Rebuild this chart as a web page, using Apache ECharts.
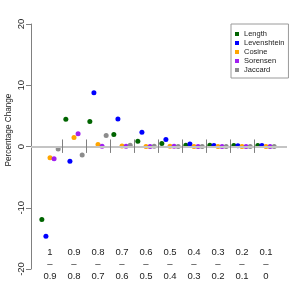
<!DOCTYPE html>
<html><head><meta charset="utf-8">
<script src="https://cdn.jsdelivr.net/npm/echarts@6/dist/echarts.min.js"></script>
<style>html,body{margin:0;padding:0;background:#fff}#c{width:300px;height:300px}</style>
</head><body><div id="c"></div>
<script>
var categories = ['1\n–\n0.9','0.9\n–\n0.8','0.8\n–\n0.7','0.7\n–\n0.6','0.6\n–\n0.5','0.5\n–\n0.4','0.4\n–\n0.3','0.3\n–\n0.2','0.2\n–\n0.1','0.1\n–\n0'];
var seriesNames = ['Length','Levenshtein','Cosine','Sorensen','Jaccard'];
var lengthVals      = [-11.9, 4.46, 4.08, 1.96, 0.87, 0.49, 0.2, 0.2, 0.15, 0.15];
var levenshteinVals = [-14.65, -2.4, 8.77, 4.5, 2.34, 1.15, 0.4, 0.15, 0.12, 0.15];
var cosineVals      = [-1.85, 1.47, 0.33, 0.1, 0.02, 0.05, 0, 0, 0, 0];
var sorensenVals    = [-2.0, 2.07, 0.05, 0.05, 0, 0.03, 0, 0, 0, 0];
var jaccardVals     = [-0.4, -1.4, 1.8, 0.2, 0.05, 0, 0, 0, 0, 0];
var yTicks = [-20, -10, 0, 10, 20];
var colors = ['#006400','#0000ff','#ffa500','#a020f0','#8c8c8c'];

var allVals = [lengthVals, levenshteinVals, cosineVals, sorensenVals, jaccardVals];
var dodge = 0.17;
var series = allVals.map(function(vals, k){
  return {
    name: seriesNames[k], type: 'scatter', symbol: 'circle', symbolSize: 5, z: 3,
    itemStyle: {color: colors[k], opacity: 1},
    data: vals.map(function(v, i){ return [i + (k - 2) * dodge, v]; })
  };
});
var lines = [[{coord: [-0.7917, 0], lineStyle: {color: '#c4c4c4', width: 2, type: 'solid'}}, {coord: [9.875, 0]}]];
for (var i = 0; i < categories.length - 1; i++) {
  lines.push([{coord: [i + 0.5, -1.05], lineStyle: {color: '#808080', width: 1, type: 'solid'}}, {coord: [i + 0.5, 1.15]}]);
}
series.push({
  type: 'line', data: [], z: 1, silent: true,
  markLine: {symbol: 'none', silent: true, animation: false, label: {show: false}, data: lines}
});

var chart = echarts.init(document.getElementById('c'), null, {renderer: 'canvas'});
chart.setOption({
  animation: false,
  backgroundColor: '#fff',
  textStyle: {fontFamily: 'Liberation Sans'},
  grid: {left: 31, right: 13, top: 24, bottom: 31},
  xAxis: {
    type: 'value', min: -0.7917, max: 9.875, offset: -23,
    axisLine: {show: false, onZero: false}, axisTick: {show: false}, splitLine: {show: false},
    axisLabel: {
      customValues: categories.map(function(c, i){ return i; }),
      formatter: function(v){ return categories[Math.round(v)]; },
      margin: 0, fontSize: 9.5, lineHeight: 12.2, color: '#222', verticalAlign: 'top'
    }
  },
  yAxis: {
    type: 'value', min: yTicks[0], max: yTicks[yTicks.length-1], interval: 10,
    axisLine: {show: true, onZero: false, lineStyle: {color: '#808080', width: 1}},
    axisTick: {show: true, length: 5, lineStyle: {color: '#808080'}},
    splitLine: {show: false},
    axisLabel: {rotate: 90, fontSize: 9.5, color: '#222', margin: 5}
  },
  legend: {
    orient: 'vertical', left: 231, top: 24,
    data: seriesNames,
    icon: 'rect', itemWidth: 4, itemHeight: 4, itemGap: 1,
    padding: [6, 4, 4, 4],
    borderColor: '#9a9a9a', borderWidth: 1,
    textStyle: {fontSize: 7.5, lineHeight: 8, color: '#222', fontFamily: 'Liberation Sans'},
    selectedMode: false
  },
  graphic: [{
    type: 'text', x: 9, y: 130, rotation: Math.PI / 2,
    style: {text: 'Percentage Change', fontSize: 8.2, fontFamily: 'Liberation Sans', fill: '#222', textAlign: 'center', textVerticalAlign: 'middle'}
  }],
  series: series
});
</script></body></html>
